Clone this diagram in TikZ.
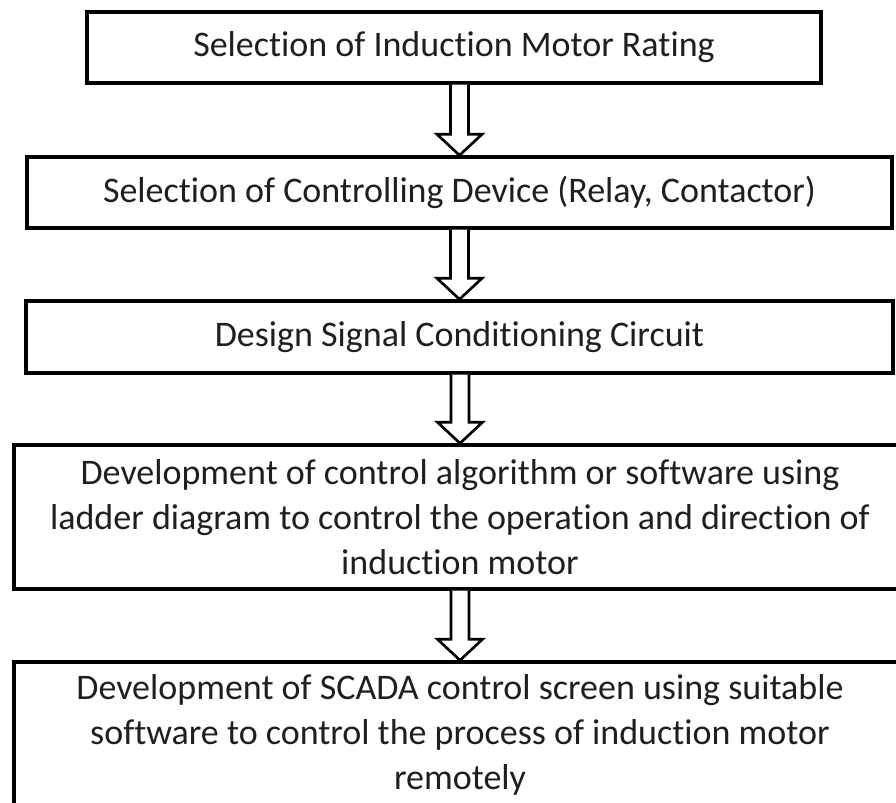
\documentclass[tikz,border=0pt]{standalone}
\usepackage{fontspec}
\setmainfont{Carlito}[Ligatures={NoCommon}]
\usetikzlibrary{calc}
\tikzset{
  stepbox/.style={draw=black, line width=2.6pt, rectangle, inner sep=0pt, align=center,
    font=\fontsize{27}{33.75}\selectfont, text=black!88},
  blockarrow/.style={draw=black, line width=2pt, fill=white, line join=miter}
}
\newcommand{\flowarrow}[2]{%
  \coordinate (top) at (#2.north |- #1.south);
  \coordinate (tip) at (#2.north);
  \draw[blockarrow] ($(top)+(-9,0)$) -- ($(tip)+(-9,-21)$) -- ($(tip)+(-22.5,-21)$) -- (tip)
     -- ($(tip)+(22.5,-21)$) -- ($(tip)+(9,-21)$) -- ($(top)+(9,0)$);
}
\begin{document}
\begin{tikzpicture}[x=0.75pt, y=-0.75pt]
\useasboundingbox (0,0) rectangle (896,803);
\clip (0,0) rectangle (896,803);
\fill[white] (0,0) rectangle (896,803);
\node[stepbox, minimum width={734*0.75pt}, minimum height={71*0.75pt}] (b1) at (454,47.5)
  {Selection of Induction Motor Rating};
\node[stepbox, minimum width={865*0.75pt}, minimum height={71*0.75pt}] (b2) at (459.5,192.5)
  {Selection of Controlling Device (Relay, Contactor)};
\node[stepbox, minimum width={867*0.75pt}, minimum height={72*0.75pt}] (b3) at (459.5,337)
  {Design Signal Conditioning Circuit};
\node[stepbox, minimum width={892*0.75pt}, minimum height={144*0.75pt}] (b4) at (460,517)
  {Development of control algorithm or software using\\ladder diagram to control the operation and direction of\\induction motor};
\node[stepbox, minimum width={892*0.75pt}, minimum height={146*0.75pt}] (b5) at (460,735)
  {Development of SCADA control screen using suitable\\software to control the process of induction motor\\remotely};
\flowarrow{b1}{b2}
\flowarrow{b2}{b3}
\flowarrow{b3}{b4}
\flowarrow{b4}{b5}
\end{tikzpicture}
\end{document}
